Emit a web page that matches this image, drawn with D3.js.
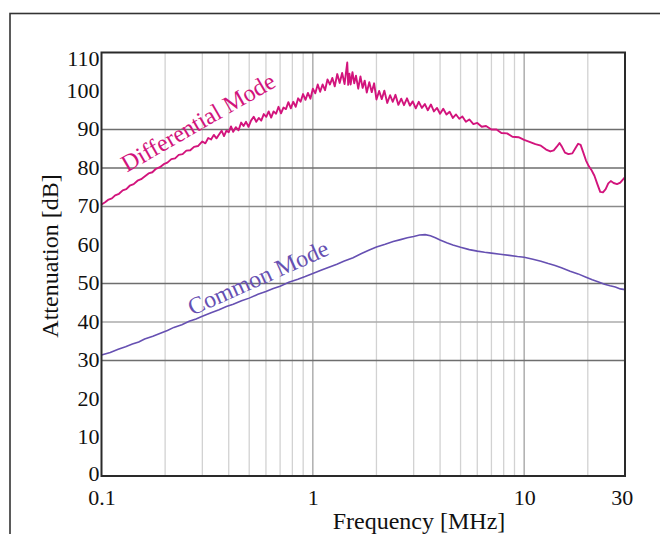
<!DOCTYPE html>
<html>
<head>
<meta charset="utf-8">
<script src="https://cdn.jsdelivr.net/npm/d3@7/dist/d3.min.js"></script>
<style>
  html, body { margin: 0; padding: 0; background: #fff; }
  svg { display: block; }
  text { font-family: "Liberation Serif", "Times New Roman", serif; fill: #111; }
</style>
</head>
<body>
<svg id="chart" width="660" height="534"></svg>
<script>
// ---- data ----
const xTicks = [0.1, 1, 10, 30];
const xTickLabels = ["0.1", "1", "10", "30"];
const yTicks = [0, 10, 20, 30, 40, 50, 60, 70, 80, 90, 100, 110];
const xMinorGrid = [0.2, 0.3, 0.4, 0.5, 0.6, 0.7, 0.8, 0.9, 2, 3, 4, 5, 6, 7, 8, 9, 20];
const xMajorGrid = [1, 10];
const yDarkGrid = [30, 50, 80, 90];
const yMidGrid = [70];
const yLightGrid = [40];

const dmFreq = [0.100,0.104,0.108,0.112,0.116,0.121,0.126,0.131,0.136,0.142,0.148,0.154,0.160,0.167,0.174,0.181,0.189,0.197,0.205,0.214,0.223,0.232,0.242,0.252,0.263,0.274,0.286,
  0.300,0.310,0.320,0.330,0.340,0.350,0.360,0.370,0.380,0.390,0.400,0.410,0.420,0.432,0.445,0.458,0.470,0.483,0.496,0.510,0.525,0.540,0.555,0.570,0.586,0.602,0.618,0.635,0.652,0.670,0.688,0.707,0.726,0.746,0.766,0.787,0.808,0.830,0.852,0.875,0.899,0.923,0.948,0.974,
  1.000,1.027,1.055,1.083,1.112,1.142,1.173,1.205,1.237,1.270,1.305,1.340,1.376,1.413,1.440,1.455,1.470,1.490,1.510,1.540,1.570,1.600,1.640,1.680,1.720,1.760,1.800,1.850,1.900,1.950,
  2.000,2.060,2.120,2.180,2.250,2.320,2.390,2.460,2.540,2.620,2.700,2.790,2.880,2.970,3.070,3.170,3.280,3.390,3.500,3.620,3.740,3.870,4.000,4.140,4.290,4.440,4.600,4.760,4.930,5.100,5.300,5.500,5.750,6.000,6.300,6.600,7.000,7.400,7.800,8.300,8.800,9.400,
  10.0,10.6,11.3,12.0,12.7,13.3,13.8,14.3,14.7,15.1,15.6,16.2,16.9,17.5,18.0,18.5,19.0,19.6,20.2,20.8,21.5,22.2,22.9,23.6,24.3,25.0,25.7,26.5,27.5,28.5,29.3,30.0];
const dmDb = [70.5,71.1,71.8,72.1,72.9,73.3,74.2,74.5,75.4,75.8,76.7,77.1,77.8,78.6,78.9,79.8,80.2,81.0,81.4,82.3,82.5,83.4,83.6,84.5,84.6,85.5,85.7,
  86.9,86.4,87.8,87.4,88.6,87.7,88.7,89.7,88.3,89.7,89.3,90.8,89.4,90.6,89.8,91.8,90.9,92.0,90.7,92.3,93.3,92.0,93.0,92.3,94.0,93.3,94.7,93.1,94.7,94.1,95.9,94.2,95.7,95.3,97.1,95.5,97.2,95.9,98.1,97.2,99.2,97.7,99.5,98.0,
  100.6,99.4,101.7,99.8,101.7,100.2,103.0,101.7,103.4,101.2,104.4,102.1,104.7,101.8,105.4,107.4,101.6,104.5,101.7,104.9,102.0,104.0,100.6,103.8,100.8,102.7,99.6,102.3,99.7,102.0,
  97.8,100.0,97.9,100.1,96.9,98.9,97.2,99.0,96.4,98.0,96.3,98.1,96.2,97.3,95.5,97.2,95.6,96.6,95.0,96.5,94.7,95.6,94.1,95.4,93.9,94.6,93.0,93.9,92.8,93.4,92.0,92.6,91.4,91.7,90.7,90.9,90.0,90.0,89.1,89.0,88.1,88.0,
  87.3,86.8,86.2,85.8,84.8,84.3,84.6,85.6,86.5,85.5,84.0,83.6,83.8,85.2,86.3,86.0,84.2,82.0,80.5,79.5,78.0,75.8,73.8,73.7,74.5,76.0,76.6,76.1,75.8,76.2,77.0,77.6];

const cmFreq = [0.100,0.110,0.120,0.130,0.140,0.150,0.160,0.175,0.190,0.205,0.220,0.240,0.260,0.280,0.300,0.330,0.360,0.390,0.420,0.460,0.500,0.550,0.600,0.650,0.700,0.770,0.850,0.920,1.00,1.10,1.20,1.30,1.40,1.55,1.70,1.85,2.00,2.20,2.40,2.60,2.80,3.00,3.20,3.40,3.60,3.80,4.00,4.30,4.60,5.00,5.50,6.00,6.50,7.00,7.70,8.50,9.30,10.0,11.0,12.0,13.0,14.0,15.0,16.5,18.0,19.5,21.0,22.5,24.0,25.5,27.0,28.5,30.0];
const cmDb = [31.4,32.1,32.9,33.6,34.3,34.8,35.6,36.3,37.1,37.8,38.6,39.3,40.2,40.8,41.5,42.4,43.2,44.0,44.6,45.5,46.2,47.2,47.9,48.7,49.3,50.3,51.1,51.8,52.6,53.5,54.3,55.0,55.8,56.7,57.8,58.7,59.5,60.2,60.9,61.4,61.9,62.2,62.6,62.7,62.4,61.9,61.3,60.6,60.0,59.4,58.8,58.4,58.1,57.9,57.6,57.3,57.0,56.8,56.3,55.8,55.2,54.7,54.1,53.2,52.5,51.7,51.0,50.4,49.8,49.4,49.1,48.6,48.4];

const dmLabel = "Differential Mode";
const cmLabel = "Common Mode";
const xTitle = "Frequency [MHz]";
const yTitle = "Attenuation [dB]";

// ---- layout ----
const svg = d3.select("#chart");
const L = 101.5, R = 625, T = 52.5, B = 476;
const x = d3.scaleLog().domain([0.1, 30]).range([L, R]);
const y = d3.scaleLinear().domain([0, 110]).range([B, T]);
const DM_COLOR = "#d2147c";
const CM_COLOR = "#6650b2";

// outer frame
svg.append("rect").attr("x", 10).attr("y", 13.5).attr("width", 700).attr("height", 600)
  .attr("fill", "none").attr("stroke", "#333").attr("stroke-width", 1.6);

const g = svg.append("g");

// vertical grid
g.selectAll(".vmin").data(xMinorGrid).join("line")
  .attr("x1", d => x(d)).attr("x2", d => x(d)).attr("y1", T).attr("y2", B)
  .attr("stroke", "#d2d2d2").attr("stroke-width", 1.3);
g.selectAll(".vmaj").data(xMajorGrid).join("line")
  .attr("x1", d => x(d)).attr("x2", d => x(d)).attr("y1", T).attr("y2", B)
  .attr("stroke", "#a8a8a8").attr("stroke-width", 1.4);

// horizontal grid
g.selectAll(".hl").data(yLightGrid).join("line")
  .attr("x1", L).attr("x2", R).attr("y1", d => y(d)).attr("y2", d => y(d))
  .attr("stroke", "#ababab").attr("stroke-width", 1.4);
g.selectAll(".hm").data(yMidGrid).join("line")
  .attr("x1", L).attr("x2", R).attr("y1", d => y(d)).attr("y2", d => y(d))
  .attr("stroke", "#8a8a8a").attr("stroke-width", 1.4);
g.selectAll(".hd").data(yDarkGrid).join("line")
  .attr("x1", L).attr("x2", R).attr("y1", d => y(d)).attr("y2", d => y(d))
  .attr("stroke", "#6e6e6e").attr("stroke-width", 1.5);

// curves
const dmData = dmFreq.map((f, i) => [f, dmDb[i]]);
const cmData = cmFreq.map((f, i) => [f, cmDb[i]]);
const line = d3.line().x(d => x(d[0])).y(d => y(d[1]));
g.append("path").datum(cmData).attr("d", line)
  .attr("fill", "none").attr("stroke", CM_COLOR).attr("stroke-width", 1.6);
g.append("path").datum(dmData).attr("d", line)
  .attr("fill", "none").attr("stroke", DM_COLOR).attr("stroke-width", 1.9).attr("stroke-linejoin", "round");

// plot frame
g.append("rect").attr("x", L).attr("y", T).attr("width", R - L).attr("height", B - T)
  .attr("fill", "none").attr("stroke", "#2a2a2a").attr("stroke-width", 2);

// y axis labels
const yAxis = d3.axisLeft(y).tickValues(yTicks).tickSize(0).tickPadding(2).tickFormat(d3.format("d"));
const ya = svg.append("g").attr("transform", `translate(${L},0)`).call(yAxis);
ya.select(".domain").remove();
ya.selectAll("text").attr("font-size", 22).attr("fill", "#111")
  .attr("font-family", "Liberation Serif, serif")
  .attr("dy", d => d === 110 ? "0.58em" : d === 0 ? "0.2em" : "0.28em");

// x axis labels
const xAxis = d3.axisBottom(x).tickValues(xTicks).tickSize(0).tickPadding(13)
  .tickFormat((d, i) => xTickLabels[i]);
const xa = svg.append("g").attr("transform", `translate(0,${B})`).call(xAxis);
xa.select(".domain").remove();
xa.selectAll("text").attr("font-size", 22).attr("fill", "#111")
  .attr("font-family", "Liberation Serif, serif")
  .attr("dx", d => d === 30 ? "-0.15em" : 0);

// axis titles
svg.append("text").attr("x", 419).attr("y", 529).attr("text-anchor", "middle")
  .attr("font-size", 24).text(xTitle);
svg.append("text").attr("transform", "translate(58,256) rotate(-90)").attr("text-anchor", "middle")
  .attr("font-size", 24).text(yTitle);

// curve labels
svg.append("text").attr("transform", `translate(${x(0.132)},${y(78.8)}) rotate(-30)`)
  .attr("font-size", 24).style("fill", DM_COLOR).text(dmLabel);
svg.append("text").attr("transform", `translate(${x(0.269)},${y(41.6)}) rotate(-24)`)
  .attr("font-size", 24).style("fill", CM_COLOR).text(cmLabel);
</script>
</body>
</html>
